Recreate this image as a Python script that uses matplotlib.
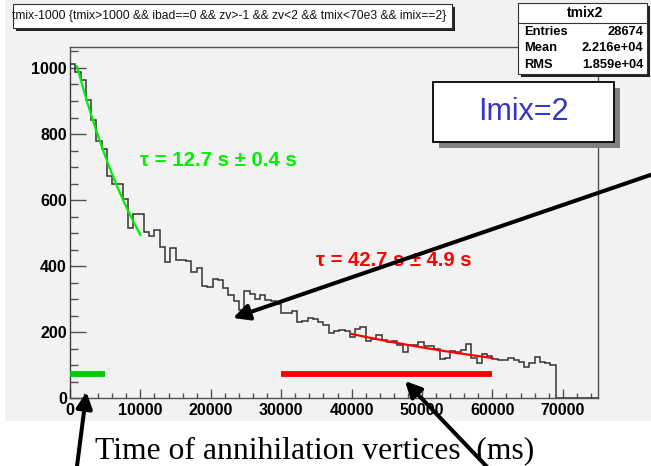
import numpy as np
import matplotlib
matplotlib.use("Agg")
import matplotlib.pyplot as plt
from matplotlib.patches import Rectangle, FancyArrowPatch
from matplotlib.lines import Line2D
from matplotlib.ticker import MultipleLocator

# ---------------- data ----------------
hist_range = (0, 75000)
n_bins = 100
counts = [1012, 988, 965, 904, 843, 780, 755, 674, 648, 648, 603, 515, 559, 559, 502, 491, 509,
          458, 412, 456, 420, 420, 415, 382, 395, 339, 337, 360, 358, 334, 314, 294, 268, 326, 316,
          300, 314, 299, 294, 284, 258, 258, 263, 230, 233, 243, 240, 232,
          222, 197, 203, 208, 203, 187, 210, 215, 172, 180, 192, 177, 169, 172, 162, 141, 160, 160,
          170, 159, 158,
          150, 120, 122, 142, 140, 145, 164, 121, 106, 135, 127, 118, 116, 117, 121, 116, 109, 96,
          108, 124, 110, 107, 100,
          0, 0, 0, 0, 0, 0, 0, 0]

fit1_amp, fit1_tau_ms, fit1_range = 1087.0, 12700.0, (1000, 10000)
fit2_amp, fit2_tau_ms, fit2_range = 497.0, 42700.0, (40000, 60000)
fit1_label = "τ = 12.7 s ± 0.4 s"
fit2_label = "τ = 42.7 s ± 4.9 s"

green_bar_x = [0, 5000]
red_bar_x = [30000, 60000]
bar_level = 74

x_ticks = [0, 10000, 20000, 30000, 40000, 50000, 60000, 70000]
x_tick_labels = ["0", "10000", "20000", "30000", "40000", "50000", "60000", "70000"]
y_ticks = [0, 200, 400, 600, 800, 1000]
y_tick_labels = ["0", "200", "400", "600", "800", "1000"]

title_text = "tmix-1000 {tmix>1000 && ibad==0 && zv>-1 && zv<2 && tmix<70e3 && imix==2}"
stats_name = "tmix2"
stats_keys = ["Entries", "Mean", "RMS"]
stats_vals = ["28674", "2.216e+04", "1.859e+04"]
box_label = "Imix=2"
x_label = "Time of annihilation vertices  (ms)"

# ---------------- layout helpers ----------------
W, H = 651, 466
fig = plt.figure(figsize=(W / 100, H / 100), dpi=100)
fig.patch.set_facecolor("white")

def fx(x):
    return x / W

def fy(y):
    return 1 - y / H

def rect_px(x0, y0, x1, y1, **kw):
    r = Rectangle((fx(x0), fy(y1)), (x1 - x0) / W, (y1 - y0) / H,
                  transform=fig.transFigure, **kw)
    fig.add_artist(r)
    return r

SANS = ["Liberation Sans", "DejaVu Sans"]
SERIF = ["Liberation Serif", "DejaVu Serif"]

renderer = fig.canvas.get_renderer()

def fit_width(t, target):
    for _ in range(3):
        w = t.get_window_extent(renderer=renderer).width
        if w > 0:
            t.set_fontsize(t.get_fontsize() * target / w)

# canvas background
rect_px(5, 0, 651, 421, facecolor="#f2f2f2", edgecolor="none", zorder=0)

# ---------------- axes ----------------
ax_l, ax_r, ax_t, ax_b = 70, 598, 46.5, 398.3
ax = fig.add_axes([fx(ax_l), fy(ax_b), (ax_r - ax_l) / W, (ax_b - ax_t) / H])
ax.set_facecolor("#f2f2f2")
ax.set_xlim(*hist_range)
ax.set_ylim(0, 1065)

edges = np.linspace(hist_range[0], hist_range[1], n_bins + 1)
ax.stairs(counts, edges, baseline=0, color="#333333", lw=1.1, zorder=3)

xf1 = np.linspace(*fit1_range, 200)
ax.plot(xf1, fit1_amp * np.exp(-xf1 / fit1_tau_ms), color="#00ee00", lw=1.6, zorder=4)
xf2 = np.linspace(*fit2_range, 200)
ax.plot(xf2, fit2_amp * np.exp(-xf2 / fit2_tau_ms), color="#ff0000", lw=1.6, zorder=4)

ax.plot(green_bar_x, [bar_level, bar_level], color="#00cc00", lw=4.2,
        solid_capstyle="butt", zorder=4)
ax.plot(red_bar_x, [bar_level, bar_level], color="#ff0000", lw=4.2,
        solid_capstyle="butt", zorder=4)

for s in ax.spines.values():
    s.set_color("#505050")
    s.set_linewidth(1.0)

ax.set_xticks(x_ticks)
ax.set_xticklabels(x_tick_labels)
ax.set_yticks(y_ticks)
ax.set_yticklabels(y_tick_labels)
ax.xaxis.set_minor_locator(MultipleLocator(2000))
ax.yaxis.set_minor_locator(MultipleLocator(50))
ax.tick_params(axis="x", which="major", direction="in", length=6.5, width=1.0,
               color="#505050", pad=3.2)
ax.tick_params(axis="x", which="minor", direction="in", length=3.6, width=1.0,
               color="#505050")
ax.tick_params(axis="y", which="major", direction="in", length=11.5, width=1.0,
               color="#505050", pad=2.2)
ax.tick_params(axis="y", which="minor", direction="in", length=5.8, width=1.0,
               color="#505050")
for lab in ax.get_xticklabels() + ax.get_yticklabels():
    lab.set_family(SANS)
    lab.set_fontweight("bold")
    lab.set_fontsize(11.5)

# ---------------- fit labels ----------------
t1 = fig.text(fx(140), fy(161), fit1_label, color="#00ee00", fontsize=12.5,
              fontweight="bold", family=SANS, ha="left", va="center", zorder=6)
fit_width(t1, 158)
t2 = fig.text(fx(316), fy(260.5), fit2_label, color="#ff0000", fontsize=12.5,
              fontweight="bold", family=SANS, ha="left", va="center", zorder=6)
fit_width(t2, 155)

# ---------------- title box ----------------
rect_px(15.5, 7, 455, 31, facecolor="#222222", edgecolor="none", zorder=7)
rect_px(12.7, 4, 452, 28, facecolor="white", edgecolor="#333333", lw=0.8, zorder=8)
tt = fig.text(fx(11.5), fy(16), title_text, fontsize=8.3, family=SANS, color="#111111",
              ha="left", va="center", zorder=9)
fit_width(tt, 437)

# ---------------- stats box ----------------
rect_px(521, 6, 650, 77, facecolor="#222222", edgecolor="none", zorder=7)
rect_px(518, 3, 647, 74, facecolor="white", edgecolor="#333333", lw=0.8, zorder=8)
fig.add_artist(Line2D([fx(518), fx(647)], [fy(22.7), fy(22.7)], color="#333333",
                      lw=0.8, transform=fig.transFigure, zorder=9))
fig.text(fx(585), fy(12.7), stats_name, fontsize=10, fontweight="bold", family=SANS,
         ha="center", va="center", zorder=9)
row_y = [31.7, 48.5, 65.2]
for k, v, yy in zip(stats_keys, stats_vals, row_y):
    fig.text(fx(524), fy(yy), k, fontsize=9.3, fontweight="bold", family=SANS,
             ha="left", va="center", zorder=9)
    fig.text(fx(643.5), fy(yy), v, fontsize=9.3, fontweight="bold", family=SANS,
             ha="right", va="center", zorder=9)

# ---------------- Imix box ----------------
rect_px(439.3, 87.7, 620.3, 147.7, facecolor="#808080", edgecolor="none", zorder=7)
rect_px(433.3, 81.7, 614.3, 141.7, facecolor="white", edgecolor="black", lw=1.3, zorder=8)
fig.text(fx(523.8), fy(111.7), box_label, fontsize=22, color="#3434cc", family=SANS,
         ha="center", va="center", zorder=9)

# ---------------- x label ----------------
xl = fig.text(fx(314.5), fy(458), x_label, fontsize=22.5, family=SERIF, color="black",
              ha="center", va="baseline", zorder=6)
fit_width(xl, 439)

# ---------------- arrows ----------------
def arrow_px(x0, y0, x1, y1):
    a = FancyArrowPatch((fx(x0), fy(y0)), (fx(x1), fy(y1)), transform=fig.transFigure,
                        arrowstyle="-|>", mutation_scale=24, lw=2.9, color="black",
                        shrinkA=0, shrinkB=0, zorder=10)
    fig.add_artist(a)

arrow_px(662, 171, 233, 318)
arrow_px(76.5, 470, 86.5, 392)
arrow_px(490, 470, 405, 381)

fig.savefig("out.png", dpi=100)
